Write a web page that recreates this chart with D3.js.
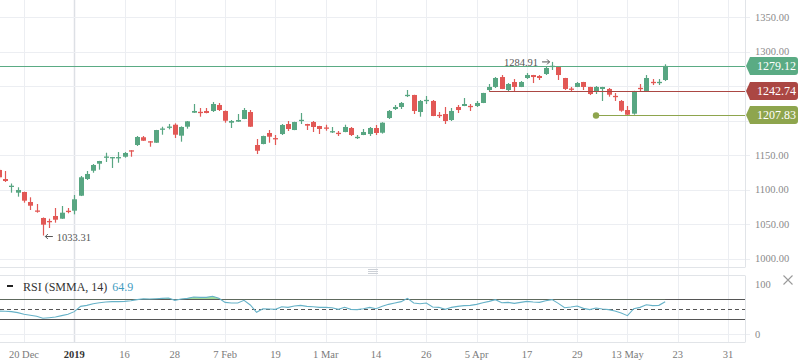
<!DOCTYPE html>
<html>
<head>
<meta charset="utf-8">
<script src="https://cdn.jsdelivr.net/npm/d3@7"></script>
<style>
    body { margin: 0; background: #fff; }
    svg text { font-family: "Liberation Serif", "DejaVu Serif", serif; }
</style>
</head>
<body>
<div id="chart"></div>
<script>

// candle data, one entry per trading day
const opens = [
    1128.3, 1115.2, 1104.5, 1095.4, 1096.4, 1081.9, 1069.6, 1058.7, 1054.4, 1061.6,
    1057.7, 1069.2, 1069.3, 1091, 1115.2, 1127.2, 1137.4, 1147.2, 1146.5, 1146.5,
    1147.5, 1156.8, 1164.5, 1175.7, 1169.9, 1167.8, 1187.7, 1190.6, 1193.9, 1178,
    1191, 1211.3, 1212.6, 1213.8, 1213.8, 1222.5, 1213.8, 1196.8, 1198.3, 1202.2,
    1212.3, 1164.5, 1165.9, 1181.9, 1174.5, 1180.4, 1194.9, 1186.2, 1200.4, 1194.9,
    1197.8, 1192, 1189.9, 1184, 1182.2, 1183.3, 1189.1, 1175.9, 1179, 1180.4,
    1189.1, 1182.3, 1203.6, 1216.7, 1219.6, 1236.8, 1237, 1212.3, 1229.5, 1228.3,
    1208.2, 1209.4, 1200.7, 1219.6, 1221, 1221.2, 1221, 1225.4, 1244.2, 1248.6,
    1263, 1244.2, 1255.8, 1248.6, 1261.6, 1265.9, 1264.5, 1267.4, 1278.8, 1277.5,
    1261.6, 1246.3, 1248.6, 1255.8, 1248.6, 1241.3, 1245.7, 1245.7, 1235.7, 1228.3,
    1215.2, 1209.9, 1247.3, 1242.8, 1256, 1255.6, 1258.7
];
const highs = [
    1130, 1126.8, 1108.7, 1103.2, 1096.8, 1088.7, 1079, 1059.5, 1057.7, 1073.2,
    1076.1, 1073.2, 1092, 1119.6, 1126.8, 1137, 1141.5, 1153.3, 1147.2, 1154.3,
    1154.3, 1157, 1177.5, 1177.5, 1170.2, 1186.4, 1191, 1195, 1195.9, 1191.5,
    1199.3, 1223.9, 1218.1, 1218.1, 1226.8, 1225.4, 1214.5, 1200.7, 1209.4, 1218.1,
    1215.2, 1173.2, 1178, 1186.2, 1179, 1194.9, 1199.3, 1198.2, 1210.9, 1195.2,
    1199.3, 1192.3, 1193.9, 1190.6, 1184.8, 1193.9, 1190.6, 1179, 1187.7, 1190.6,
    1193.5, 1197.5, 1215.2, 1222.5, 1226.8, 1244.2, 1237.3, 1229.7, 1235.5, 1229.7,
    1212.3, 1219.6, 1218.1, 1222.5, 1232.6, 1223.9, 1228.3, 1240.1, 1252.9, 1263,
    1265.9, 1254.3, 1260.1, 1257.2, 1268.8, 1266.1, 1265.9, 1277.5, 1284.91, 1277.7,
    1261.8, 1248.6, 1255.8, 1256, 1248.8, 1250, 1248.8, 1247.1, 1239.9, 1229.7,
    1221, 1243, 1252.9, 1265.9, 1260.1, 1260.1, 1281.5
];
const lows = [
    1116, 1110.9, 1095.4, 1089.6, 1080.9, 1070.3, 1066.4, 1033.31, 1044.2, 1051.9,
    1057.5, 1065.5, 1064, 1090.5, 1113.8, 1124.3, 1128.7, 1139.9, 1131.2, 1138.8,
    1146.1, 1147.5, 1163, 1170.5, 1162, 1167.6, 1179.4, 1187.2, 1174.6, 1169.3,
    1188.1, 1211, 1205.5, 1210.4, 1212.3, 1213.8, 1196.8, 1189.1, 1198, 1202,
    1190.8, 1151.4, 1165.5, 1167.8, 1164.5, 1179, 1184.8, 1186, 1194.9, 1186.2,
    1183.3, 1180.4, 1185.2, 1181.9, 1177.5, 1183, 1177.5, 1173.2, 1178.8, 1177.5,
    1179, 1181, 1202.2, 1215.2, 1216.7, 1234, 1209.4, 1205.5, 1223.9, 1206.3,
    1203.6, 1194.9, 1199.3, 1210.9, 1220.8, 1213.8, 1219.6, 1225.2, 1242.74, 1247.1,
    1245.5, 1241.3, 1242.8, 1248.4, 1260.1, 1254.3, 1258.7, 1265.9, 1273.2, 1258.7,
    1244.2, 1241.3, 1248.4, 1244.2, 1236.9, 1238.4, 1228.3, 1234.5, 1228.3, 1212.7,
    1207.83, 1208.4, 1241.3, 1242.6, 1251.4, 1251.4, 1257.2
];
const closes = [
    1117.7, 1112.3, 1105.5, 1099.3, 1083.8, 1076.5, 1068.6, 1049, 1053.6, 1056.2,
    1066.4, 1068.6, 1085.8, 1117.7, 1122.5, 1135.5, 1141.3, 1147.8, 1147, 1147,
    1152.9, 1156, 1176.1, 1170.7, 1168.5, 1186.2, 1188.4, 1191.2, 1179.4, 1190.6,
    1198.8, 1213.8, 1212, 1210.9, 1223.9, 1215.2, 1199.7, 1199.3, 1200.7, 1215.2,
    1191, 1156.2, 1177.5, 1176.5, 1174, 1193.5, 1187.7, 1197.8, 1201, 1192.5,
    1190.6, 1187.7, 1189.4, 1184.6, 1181.7, 1190.6, 1179, 1176.3, 1183.3, 1189.1,
    1181.9, 1196.8, 1213.8, 1219.6, 1225.4, 1237.2, 1213.8, 1228.3, 1229.9, 1206.5,
    1207.8, 1199.3, 1213.8, 1215.2, 1223.9, 1220.8, 1225.4, 1239.9, 1248.6, 1261.6,
    1245.7, 1252.9, 1248.6, 1255.8, 1265.9, 1263, 1261.6, 1276.1, 1279.3, 1265.9,
    1245.7, 1245.9, 1254.3, 1248.6, 1238.4, 1248.6, 1248.6, 1237.4, 1235.3, 1214.2,
    1208.4, 1242.8, 1246.9, 1261.6, 1255.6, 1256, 1279.12
];

// RSI (SMMA, 14), one value per candle
const rsiValues = [
    46.5, 46, 45.3, 43.3, 40, 38, 36, 32, 33.2, 34.6,
    37.3, 40, 45.3, 55.9, 57.9, 61.2, 63.2, 64.6, 65.3, 65.3,
    65.9, 67.2, 69.3, 71.2, 70.6, 71.2, 71.9, 72.6, 67.9, 70.6,
    71.9, 74.6, 73.9, 73.9, 76, 71.9, 63.9, 62.6, 62.6, 67.9,
    58.6, 43.9, 51.2, 50.6, 49.9, 55.2, 53.9, 56.6, 57.9, 55.9,
    55.2, 53.9, 53.9, 53.2, 49.9, 53.9, 49.9, 49.3, 51.2, 53.9,
    51.2, 55.9, 59.9, 62.6, 65.3, 71.9, 62.6, 61.2, 62.6, 54.6,
    53.9, 49.9, 53.9, 55.9, 57.3, 57.9, 59.9, 63.2, 65.9, 69.3,
    63.2, 63.9, 61.9, 63.9, 65.9, 64.6, 63.9, 67.2, 69.3, 61.9,
    53.2, 54.6, 56.6, 51.9, 49.3, 52.6, 50.6, 49.3, 46.6, 42.6,
    37.3, 51.2, 53.9, 59.2, 57.3, 57.9, 64.9
];

// x axis ticks (candle index -> label)
const tickIndex = [4, 12, 20, 28, 36, 44, 52, 60, 68, 76, 84, 92, 100, 108, 116];
const tickLabels = ["20 Dec", "2019", "16", "28", "7 Feb", "19", "1 Mar", "14", "26", "5 Apr", "17", "29", "13 May", "23", "31"];

const priceTicks = [1000, 1050, 1100, 1150, 1200, 1250, 1300, 1350];
const rsiTicks = [0, 100];
const rsiLevels = [30, 50, 70];

// horizontal level lines: value and the candle they start from
const levelValues = [1279.12, 1242.74, 1207.83];
const levelStart = [0, 78, 95];
const levelColors = ["#5aab84", "#ab4743", "#8ea54d"];

// extremes marked on the chart
const lowIndex = 7, lowValue = 1033.31;
const highIndex = 88, highValue = 1284.91;


class CandleChart {

    constructor(parentElement) {
        this.parentElement = parentElement;
        this.initVis();
    }

    initVis() {
        let vis = this;

        vis.width = 798;
        vis.height = 363;
        vis.plotRight = 745;
        vis.mainBottom = 267.5;
        vis.rsiTop = 275.5;
        vis.rsiBottom = 342.5;

        vis.up = "#58a682";
        vis.down = "#e25855";
        vis.grid = "#eceef2";

        vis.svg = d3.select("#" + vis.parentElement).append("svg")
            .attr("width", vis.width)
            .attr("height", vis.height);

        vis.x = d3.scaleLinear().domain([0, 119]).range([-1.14, 746.9]);
        vis.y = d3.scaleLinear().domain([1000, 1350]).range([258.5, 17]);
        vis.yR = d3.scaleLinear().domain([0, 100]).range([334.3, 284.3]);

        let defs = vis.svg.append("defs");
        defs.append("clipPath").attr("id", "clipMain")
            .append("rect").attr("x", 0).attr("y", 0)
            .attr("width", vis.plotRight).attr("height", vis.mainBottom);
        defs.append("clipPath").attr("id", "clipRsi")
            .append("rect").attr("x", 0).attr("y", vis.rsiTop)
            .attr("width", vis.plotRight).attr("height", vis.rsiBottom - vis.rsiTop);
        defs.append("clipPath").attr("id", "clipOver")
            .append("rect").attr("x", 0).attr("y", vis.rsiTop)
            .attr("width", vis.plotRight).attr("height", vis.yR(70) - vis.rsiTop);

        vis.drawGrid();
        vis.drawCandles();
        vis.drawLevels();
        vis.drawRsi();
        vis.drawAxes();
    }

    drawGrid() {
        let vis = this;
        let g = vis.svg.append("g").attr("class", "grid");

        // vertical grid through both panes
        g.selectAll(".vgrid")
            .data(tickIndex)
            .enter().append("line")
            .attr("x1", d => Math.round(vis.x(d)) + 0.5)
            .attr("x2", d => Math.round(vis.x(d)) + 0.5)
            .attr("y1", 0)
            .attr("y2", vis.rsiBottom)
            .attr("stroke", (d, i) => tickLabels[i] === "2019" ? "#dde0e5" : vis.grid)
            .attr("stroke-width", (d, i) => tickLabels[i] === "2019" ? 1.5 : 1);

        g.selectAll(".hgrid")
            .data(priceTicks)
            .enter().append("line")
            .attr("x1", 0).attr("x2", vis.plotRight + 5)
            .attr("y1", d => Math.round(vis.y(d)) + 0.5)
            .attr("y2", d => Math.round(vis.y(d)) + 0.5)
            .attr("stroke", vis.grid);

        g.append("line")
            .attr("x1", 0).attr("x2", vis.plotRight + 5)
            .attr("y1", Math.round(vis.yR(0)) + 0.5).attr("y2", Math.round(vis.yR(0)) + 0.5)
            .attr("stroke", vis.grid);

        // pane borders
        let border = "#e1e4e8";
        [vis.mainBottom, vis.rsiTop, vis.rsiBottom].forEach(yy => {
            g.append("line").attr("x1", 0).attr("x2", vis.plotRight)
                .attr("y1", yy).attr("y2", yy).attr("stroke", border);
        });
        g.append("line").attr("x1", vis.plotRight + 0.5).attr("x2", vis.plotRight + 0.5)
            .attr("y1", 0).attr("y2", vis.mainBottom).attr("stroke", border);
        g.append("line").attr("x1", vis.plotRight + 0.5).attr("x2", vis.plotRight + 0.5)
            .attr("y1", vis.rsiTop).attr("y2", vis.rsiBottom).attr("stroke", border);

        // pane resize handle
        [269.5, 271.5, 273.5].forEach(yy => {
            g.append("line").attr("x1", 368).attr("x2", 378)
                .attr("y1", yy).attr("y2", yy).attr("stroke", "#ccd0d6");
        });
    }

    drawCandles() {
        let vis = this;
        let idx = d3.range(opens.length);

        let g = vis.svg.append("g")
            .attr("class", "candles")
            .attr("clip-path", "url(#clipMain)");

        g.selectAll(".wick")
            .data(idx)
            .enter().append("line")
            .attr("class", "wick")
            .attr("x1", i => Math.round(vis.x(i)) + 0.5)
            .attr("x2", i => Math.round(vis.x(i)) + 0.5)
            .attr("y1", i => vis.y(highs[i]))
            .attr("y2", i => vis.y(lows[i]))
            .attr("stroke", i => closes[i] >= opens[i] ? vis.up : vis.down)
            .attr("stroke-width", 1.2);

        g.selectAll(".body")
            .data(idx)
            .enter().append("rect")
            .attr("class", "body")
            .attr("x", i => Math.round(vis.x(i)) - 2)
            .attr("width", 5)
            .attr("y", i => Math.min(vis.y(opens[i]), vis.y(closes[i])))
            .attr("height", i => Math.max(1.3, Math.abs(vis.y(opens[i]) - vis.y(closes[i]))))
            .attr("fill", i => closes[i] >= opens[i] ? vis.up : vis.down);

        // low / high markers
        let mark = vis.svg.append("g").attr("class", "marks");
        let lx = vis.x(lowIndex), ly = vis.y(lowValue) + 1;
        mark.append("path")
            .attr("d", `M${lx + 10},${ly} H${lx + 2.5} M${lx + 5},${ly - 2.5} L${lx + 2.5},${ly} L${lx + 5},${ly + 2.5}`)
            .attr("stroke", "#555").attr("fill", "none");
        mark.append("text")
            .attr("x", lx + 14).attr("y", ly + 4)
            .attr("font-size", 10.5).attr("fill", "#555")
            .text(d3.format(".2f")(lowValue));

        let hx = vis.x(highIndex), hy = vis.y(highValue);
        mark.append("path")
            .attr("d", `M${hx - 10},${hy} H${hx - 2.5} M${hx - 5},${hy - 2.5} L${hx - 2.5},${hy} L${hx - 5},${hy + 2.5}`)
            .attr("stroke", "#555").attr("fill", "none");
        mark.append("text")
            .attr("x", hx - 14).attr("y", hy + 4)
            .attr("text-anchor", "end")
            .attr("font-size", 10.5).attr("fill", "#555")
            .text(d3.format(".2f")(highValue));
    }

    drawLevels() {
        let vis = this;
        let g = vis.svg.append("g").attr("class", "levels");

        levelValues.forEach((v, i) => {
            let yy = Math.round(vis.y(v)) + 0.5;
            let x0 = levelStart[i] === 0 ? 0 : vis.x(levelStart[i]);
            g.append("line")
                .attr("x1", x0).attr("x2", vis.plotRight)
                .attr("y1", yy).attr("y2", yy)
                .attr("stroke", levelColors[i]).attr("stroke-width", 1.2);
            if (i === 2) {
                g.append("circle").attr("cx", x0).attr("cy", yy).attr("r", 3.2)
                    .attr("fill", levelColors[i]);
            }
        });
    }

    drawRsi() {
        let vis = this;
        let g = vis.svg.append("g").attr("class", "rsi");

        g.selectAll(".level")
            .data(rsiLevels)
            .enter().append("line")
            .attr("x1", 0).attr("x2", vis.plotRight)
            .attr("y1", d => Math.round(vis.yR(d)) + 0.5)
            .attr("y2", d => Math.round(vis.yR(d)) + 0.5)
            .attr("stroke", "#555")
            .attr("stroke-dasharray", d => d === 50 ? "4,3" : null);

        // overbought fill
        let area = d3.area()
            .x((d, i) => vis.x(i))
            .y0(vis.yR(70))
            .y1(d => vis.yR(d));
        g.append("path")
            .datum(rsiValues)
            .attr("clip-path", "url(#clipOver)")
            .attr("d", area)
            .attr("fill", "#8fd68c")
            .attr("opacity", 0.85);

        let line = d3.line()
            .x((d, i) => vis.x(i))
            .y(d => vis.yR(d));
        g.append("path")
            .datum(rsiValues)
            .attr("clip-path", "url(#clipRsi)")
            .attr("d", line)
            .attr("fill", "none")
            .attr("stroke", "#67b2c8")
            .attr("stroke-width", 1.1);

        // legend
        g.append("line").attr("x1", 7).attr("x2", 13).attr("y1", 286).attr("y2", 286)
            .attr("stroke", "#222").attr("stroke-width", 2);
        let leg = g.append("text").attr("x", 23).attr("y", 290.5).attr("font-size", 12);
        leg.append("tspan").attr("fill", "#333").text("RSI (SMMA, 14)");
        leg.append("tspan").attr("dx", 5).attr("fill", "#3f9cbf")
            .text(rsiValues[rsiValues.length - 1]);

        // close cross
        g.append("path").attr("d", "M783.5,275.5 L792.5,284.5 M792.5,275.5 L783.5,284.5")
            .attr("stroke", "#9a9a9a").attr("stroke-width", 1.1).attr("fill", "none");
    }

    drawAxes() {
        let vis = this;
        let fmt = d3.format(".2f");
        let g = vis.svg.append("g").attr("class", "axes");

        // labels hidden behind a price tag are not drawn
        let shown = priceTicks.filter(p =>
            levelValues.every(v => Math.abs(vis.y(p) - vis.y(v)) > 12));

        g.selectAll(".plabel")
            .data(shown)
            .enter().append("text")
            .attr("x", 755)
            .attr("y", d => vis.y(d) + 3.5)
            .attr("font-size", 10.5)
            .attr("fill", "#8a8a8a")
            .text(d => fmt(d));

        g.selectAll(".rlabel")
            .data(rsiTicks)
            .enter().append("text")
            .attr("x", 755)
            .attr("y", d => vis.yR(d) + 3.5)
            .attr("font-size", 10.5)
            .attr("fill", "#8a8a8a")
            .text(d => d);

        g.selectAll(".xlabel")
            .data(tickIndex)
            .enter().append("text")
            .attr("x", d => vis.x(d))
            .attr("y", 357.5)
            .attr("text-anchor", "middle")
            .attr("font-size", 10.5)
            .attr("font-weight", (d, i) => tickLabels[i] === "2019" ? "bold" : "normal")
            .attr("fill", (d, i) => tickLabels[i] === "2019" ? "#333" : "#7a7a7a")
            .text((d, i) => tickLabels[i]);

        // price tags on the right axis
        levelValues.forEach((v, i) => {
            let yc = vis.y(v);
            let tag = g.append("g");
            tag.append("path")
                .attr("d", `M746,${yc} L750,${yc - 9} H795 Q798,${yc - 9} 798,${yc - 6} V${yc + 6} Q798,${yc + 9} 795,${yc + 9} H750 Z`)
                .attr("fill", levelColors[i]);
            tag.append("text")
                .attr("x", 757).attr("y", yc + 4)
                .attr("font-size", 12)
                .attr("fill", "#fff")
                .text(fmt(v));
        });
    }
}

new CandleChart("chart");

</script>
</body>
</html>
